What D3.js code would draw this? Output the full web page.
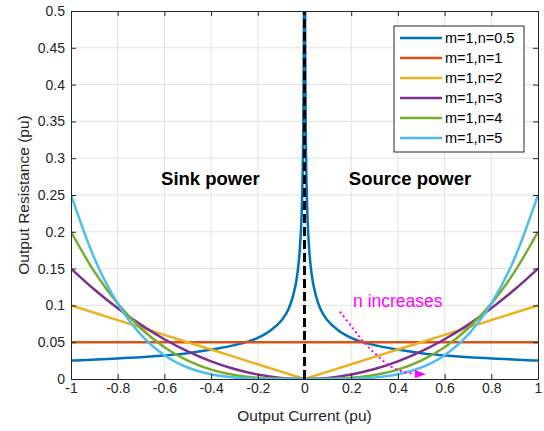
<!DOCTYPE html>
<html>
<head>
<meta charset="utf-8">
<script src="https://cdn.jsdelivr.net/npm/d3@7"></script>
<style>
  body { margin: 0; background: #fff; }
  svg { display: block; font-family: "Liberation Sans", Arial, sans-serif; }
</style>
</head>
<body>
<span></span>
<script>
let width = 544;
let height = 431;
let margin = { top: 11, right: 6, bottom: 52, left: 71 };

// current samples (pu) for the n >= 1 curves
let currentX = [-1, -0.9, -0.8, -0.7, -0.6, -0.5, -0.4, -0.3, -0.2, -0.1, 0,
                0.1, 0.2, 0.3, 0.4, 0.5, 0.6, 0.7, 0.8, 0.9, 1];
// denser samples for the n = 0.5 curve, which blows up at 0
let currentFine = [-1, -0.8, -0.6, -0.5, -0.4, -0.3, -0.2, -0.15, -0.1, -0.07, -0.05, -0.03, -0.02, -0.01, -0.005, -0.003, -0.002,
                   0.002, 0.003, 0.005, 0.01, 0.02, 0.03, 0.05, 0.07, 0.1, 0.15, 0.2, 0.3, 0.4, 0.5, 0.6, 0.8, 1];

let rN05 = [0.025, 0.028, 0.032, 0.035, 0.040, 0.046, 0.056, 0.065, 0.079, 0.094, 0.112, 0.144, 0.177, 0.25, 0.354, 0.456, 0.559,
            0.559, 0.456, 0.354, 0.25, 0.177, 0.144, 0.112, 0.094, 0.079, 0.065, 0.056, 0.046, 0.040, 0.035, 0.032, 0.028, 0.025];
let rN1 = [0.05, 0.05, 0.05, 0.05, 0.05, 0.05, 0.05, 0.05, 0.05, 0.05, 0.05,
           0.05, 0.05, 0.05, 0.05, 0.05, 0.05, 0.05, 0.05, 0.05, 0.05];
let rN2 = [0.1, 0.09, 0.08, 0.07, 0.06, 0.05, 0.04, 0.03, 0.02, 0.01, 0,
           0.01, 0.02, 0.03, 0.04, 0.05, 0.06, 0.07, 0.08, 0.09, 0.1];
let rN3 = [0.15, 0.1215, 0.096, 0.0735, 0.054, 0.0375, 0.024, 0.0135, 0.006, 0.0015, 0,
           0.0015, 0.006, 0.0135, 0.024, 0.0375, 0.054, 0.0735, 0.096, 0.1215, 0.15];
let rN4 = [0.2, 0.1458, 0.1024, 0.0686, 0.0432, 0.025, 0.0128, 0.0054, 0.0016, 0.0002, 0,
           0.0002, 0.0016, 0.0054, 0.0128, 0.025, 0.0432, 0.0686, 0.1024, 0.1458, 0.2];
let rN5 = [0.25, 0.164, 0.1024, 0.06, 0.0324, 0.0156, 0.0064, 0.002, 0.0004, 0.00003, 0,
           0.00003, 0.0004, 0.002, 0.0064, 0.0156, 0.0324, 0.06, 0.1024, 0.164, 0.25];

let seriesNames = ["m=1,n=0.5", "m=1,n=1", "m=1,n=2", "m=1,n=3", "m=1,n=4", "m=1,n=5"];
let seriesColors = ["#0072BD", "#D95319", "#EDB120", "#7E2F8E", "#77AC30", "#4DBEEE"];

let xTicks = [-1, -0.8, -0.6, -0.4, -0.2, 0, 0.2, 0.4, 0.6, 0.8, 1];
let yTicks = [0, 0.05, 0.1, 0.15, 0.2, 0.25, 0.3, 0.35, 0.4, 0.45, 0.5];

// "n increases" arrow
let arrowX = [0.152, 0.202, 0.252, 0.309, 0.366, 0.423, 0.473];
let arrowY = [0.0914, 0.0711, 0.0507, 0.0326, 0.0177, 0.0099, 0.0068];
let arrowTip = [0.520, 0.0064];

let svg = d3.select("span")
    .append("svg")
    .attr("width", width)
    .attr("height", height);

svg.append("rect").attr("width", width).attr("height", height).attr("fill", "#fff");

let x = d3.scaleLinear().domain([-1, 1]).range([margin.left, width - margin.right]);
let y = d3.scaleLinear().domain([0, 0.5]).range([height - margin.bottom, margin.top]);

let plotW = x(1) - x(-1);
let plotH = y(0) - y(0.5);

// grid
svg.append("g").selectAll("line").data(xTicks.slice(1, -1)).join("line")
    .attr("x1", d => x(d)).attr("x2", d => x(d))
    .attr("y1", y(0)).attr("y2", y(0.5))
    .attr("stroke", "#e3e3e3").attr("stroke-width", 1);
svg.append("g").selectAll("line").data(yTicks.slice(1, -1)).join("line")
    .attr("x1", x(-1)).attr("x2", x(1))
    .attr("y1", d => y(d)).attr("y2", d => y(d))
    .attr("stroke", "#e3e3e3").attr("stroke-width", 1);

svg.append("clipPath").attr("id", "clip")
    .append("rect")
    .attr("x", x(-1)).attr("y", y(0.5))
    .attr("width", plotW).attr("height", plotH);

let plot = svg.append("g").attr("clip-path", "url(#clip)");

let smooth = d3.line().x(d => x(d[0])).y(d => y(d[1])).curve(d3.curveMonotoneX);
let straight = d3.line().x(d => x(d[0])).y(d => y(d[1]));

let seriesData = [
    { xs: currentFine, ys: rN05, gen: smooth },
    { xs: currentX, ys: rN1, gen: straight },
    { xs: currentX, ys: rN2, gen: straight },
    { xs: currentX, ys: rN3, gen: smooth },
    { xs: currentX, ys: rN4, gen: smooth },
    { xs: currentX, ys: rN5, gen: smooth }
];

seriesData.forEach(function (s, i) {
    let pts = s.xs.map((v, j) => [v, s.ys[j]]);
    plot.append("path")
        .attr("d", s.gen(pts))
        .attr("fill", "none")
        .attr("stroke", seriesColors[i])
        .attr("stroke-width", 2.5);
});

// zero-current divider
plot.append("line")
    .attr("x1", x(0)).attr("x2", x(0))
    .attr("y1", y(0)).attr("y2", y(0.5))
    .attr("stroke", "#000").attr("stroke-width", 3)
    .attr("stroke-dasharray", "9,4");

// arrow
let arrowPts = arrowX.map((v, j) => [v, arrowY[j]]);
plot.append("path")
    .attr("d", d3.line().x(d => x(d[0])).y(d => y(d[1])).curve(d3.curveCatmullRom)(arrowPts))
    .attr("fill", "none")
    .attr("stroke", "#FF00FF")
    .attr("stroke-width", 2)
    .attr("stroke-dasharray", "2,3");
let baseX = x(arrowX[arrowX.length - 1]);
let baseY = y(arrowY[arrowY.length - 1]);
plot.append("path")
    .attr("d", "M" + x(arrowTip[0]) + "," + y(arrowTip[1]) +
               "L" + baseX + "," + (baseY - 4) +
               "L" + baseX + "," + (baseY + 4) + "Z")
    .attr("fill", "#FF00FF");

svg.append("text")
    .attr("x", x(0.208)).attr("y", y(0.098))
    .attr("fill", "#FF00FF")
    .attr("font-size", 17.5)
    .text("n increases");

svg.append("text")
    .attr("x", x(-0.403)).attr("y", y(0.2636))
    .attr("text-anchor", "middle")
    .attr("font-weight", "bold").attr("font-size", 18.5)
    .text("Sink power");
svg.append("text")
    .attr("x", x(0.452)).attr("y", y(0.2636))
    .attr("text-anchor", "middle")
    .attr("font-weight", "bold").attr("font-size", 18.5)
    .text("Source power");

// box with inward ticks on all four sides
let axisColor = "#262626";
let fmt = d => String(d);
svg.append("g").attr("transform", "translate(0," + y(0) + ")")
    .call(d3.axisBottom(x).tickValues(xTicks).tickSizeInner(-5).tickSizeOuter(0).tickPadding(4).tickFormat(fmt));
svg.append("g").attr("transform", "translate(0," + y(0.5) + ")")
    .call(d3.axisTop(x).tickValues(xTicks).tickSizeInner(-5).tickSizeOuter(0).tickFormat(""));
svg.append("g").attr("transform", "translate(" + x(-1) + ",0)")
    .call(d3.axisLeft(y).tickValues(yTicks).tickSizeInner(-5).tickSizeOuter(0).tickPadding(6).tickFormat(fmt));
svg.append("g").attr("transform", "translate(" + x(1) + ",0)")
    .call(d3.axisRight(y).tickValues(yTicks).tickSizeInner(-5).tickSizeOuter(0).tickFormat(""));

svg.selectAll(".domain").attr("stroke", axisColor);
svg.selectAll(".tick line").attr("stroke", axisColor);
svg.selectAll(".tick text").attr("fill", axisColor).attr("font-size", 14)
    .attr("font-family", "Liberation Sans, Arial, sans-serif");

svg.append("text")
    .attr("x", (x(-1) + x(1)) / 2).attr("y", 421)
    .attr("text-anchor", "middle").attr("font-size", 15.5).attr("fill", axisColor)
    .text("Output Current (pu)");
svg.append("text")
    .attr("transform", "translate(29," + (y(0) + y(0.5)) / 2 + ") rotate(-90)")
    .attr("text-anchor", "middle").attr("font-size", 15.5).attr("fill", axisColor)
    .text("Output Resistance (pu)");

// legend
let legend = svg.append("g");
legend.append("rect")
    .attr("x", 394).attr("y", 26).attr("width", 130).attr("height", 126)
    .attr("fill", "#fff").attr("stroke", axisColor).attr("stroke-width", 1);
seriesNames.forEach(function (name, i) {
    let ly = 38 + i * 20;
    legend.append("line")
        .attr("x1", 400).attr("x2", 442).attr("y1", ly).attr("y2", ly)
        .attr("stroke", seriesColors[i]).attr("stroke-width", 2.5);
    legend.append("text")
        .attr("x", 445).attr("y", ly + 5)
        .attr("font-size", 14.5).attr("fill", "#000")
        .text(name);
});
</script>
</body>
</html>
